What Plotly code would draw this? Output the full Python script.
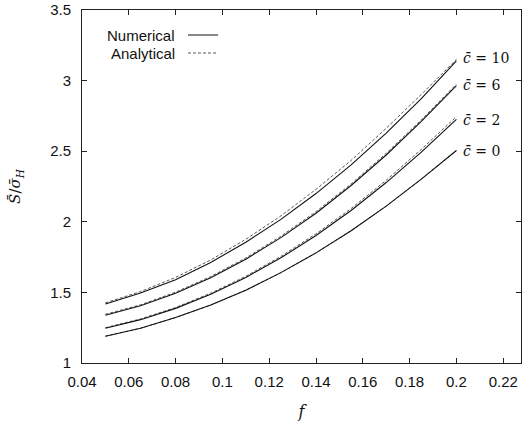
import plotly.graph_objects as go

f = [0.05, 0.065, 0.08, 0.095, 0.11, 0.125, 0.14, 0.155, 0.17, 0.185, 0.2]

num_c0 = [1.190, 1.246, 1.322, 1.410, 1.516, 1.640, 1.780, 1.937, 2.111, 2.302, 2.505]
num_c2 = [1.246, 1.307, 1.387, 1.487, 1.606, 1.745, 1.903, 2.080, 2.278, 2.494, 2.725]
num_c6 = [1.338, 1.405, 1.494, 1.604, 1.735, 1.888, 2.061, 2.257, 2.473, 2.711, 2.965]
num_c10 = [1.418, 1.496, 1.590, 1.712, 1.855, 2.017, 2.200, 2.403, 2.628, 2.873, 3.140]

ana_c0 = [1.190, 1.246, 1.322, 1.410, 1.516, 1.640, 1.780, 1.937, 2.111, 2.302, 2.505]
ana_c2 = [1.250, 1.312, 1.393, 1.494, 1.614, 1.755, 1.915, 2.094, 2.294, 2.513, 2.745]
ana_c6 = [1.345, 1.412, 1.502, 1.612, 1.744, 1.898, 2.072, 2.268, 2.485, 2.722, 2.975]
ana_c10 = [1.426, 1.506, 1.606, 1.730, 1.876, 2.042, 2.230, 2.435, 2.662, 2.902, 3.150]

labels = ["10", "6", "2", "0"]
label_y = [3.16, 2.97, 2.72, 2.50]

x_ticks = [0.04, 0.06, 0.08, 0.1, 0.12, 0.14, 0.16, 0.18, 0.2, 0.22]
y_ticks = [1, 1.5, 2, 2.5, 3, 3.5]

ML, MR, MT, MB = 82, 1, 10, 68
W = 522 - ML - MR
H = 431 - MT - MB


def px(xp):
    return (xp - ML) / W


def py(yp):
    return 1 - (yp - MT) / H


fig = go.Figure()

for ys in [ana_c10, ana_c6, ana_c2, ana_c0]:
    fig.add_trace(go.Scatter(x=f, y=ys, mode="lines",
                             line=dict(color="#444444", width=0.9, dash="3px,2px"),
                             showlegend=False, hoverinfo="skip"))
for ys in [num_c10, num_c6, num_c2, num_c0]:
    fig.add_trace(go.Scatter(x=f, y=ys, mode="lines",
                             line=dict(color="#111111", width=1.1),
                             showlegend=False, hoverinfo="skip"))

for lab, ly in zip(labels, label_y):
    fig.add_annotation(x=f[-1], y=ly, xref="x", yref="y",
                       text="<i>c̄</i> = " + lab, showarrow=False,
                       xanchor="left", xshift=5,
                       font=dict(family="DejaVu Serif, Liberation Serif, serif", size=14, color="#111111"))

# legend (text left, sample right)
leg_font = dict(family="Liberation Sans, Arial, sans-serif", size=15, color="#111111")
fig.add_annotation(x=px(177), y=py(35), xref="paper", yref="paper", text="Numerical",
                   showarrow=False, xanchor="right", yanchor="middle", font=leg_font)
fig.add_annotation(x=px(177), y=py(53), xref="paper", yref="paper", text="Analytical",
                   showarrow=False, xanchor="right", yanchor="middle", font=leg_font)

fig.add_shape(type="line", xref="paper", yref="paper",
              x0=px(188), x1=px(218), y0=py(35), y1=py(35),
              line=dict(color="#111111", width=1.0))
fig.add_shape(type="line", xref="paper", yref="paper",
              x0=px(188), x1=px(218), y0=py(53), y1=py(53),
              line=dict(color="#444444", width=0.9, dash="3px,2px"))

fig.update_layout(
    width=522, height=431,
    margin=dict(l=ML, r=MR, t=MT, b=MB, autoexpand=False),
    paper_bgcolor="white", plot_bgcolor="white",
    font=dict(family="Liberation Sans, Arial, sans-serif", size=15, color="#111111"),
    xaxis=dict(range=[0.04, 0.2276], tickvals=x_ticks, ticktext=[("%g" % v) for v in x_ticks],
               ticks="inside", ticklen=5, tickcolor="#222", mirror="allticks", automargin=False,
               showline=True, linecolor="#222", linewidth=1, showgrid=False, zeroline=False,
               ticklabelstandoff=5,
               title=dict(text="<i>f</i>", font=dict(family="DejaVu Serif, Liberation Serif, serif", size=16),
                          standoff=16)),
    yaxis=dict(range=[1, 3.5], tickvals=y_ticks, ticktext=[("%g" % v) for v in y_ticks],
               ticks="inside", ticklen=5, tickcolor="#222", mirror="allticks", automargin=False,
               showline=True, linecolor="#222", linewidth=1, showgrid=False, zeroline=False,
               ticklabelstandoff=7,
               title=dict(text="<i>S̄</i>/<i>σ̄</i><sub><i>H</i></sub>",
                          font=dict(family="DejaVu Serif, Liberation Serif, serif", size=15),
                          standoff=25)),
)

fig.write_html("out.html", config={"displayModeBar": False},
               post_script="document.body.style.margin='0';document.body.style.overflow='hidden';")
